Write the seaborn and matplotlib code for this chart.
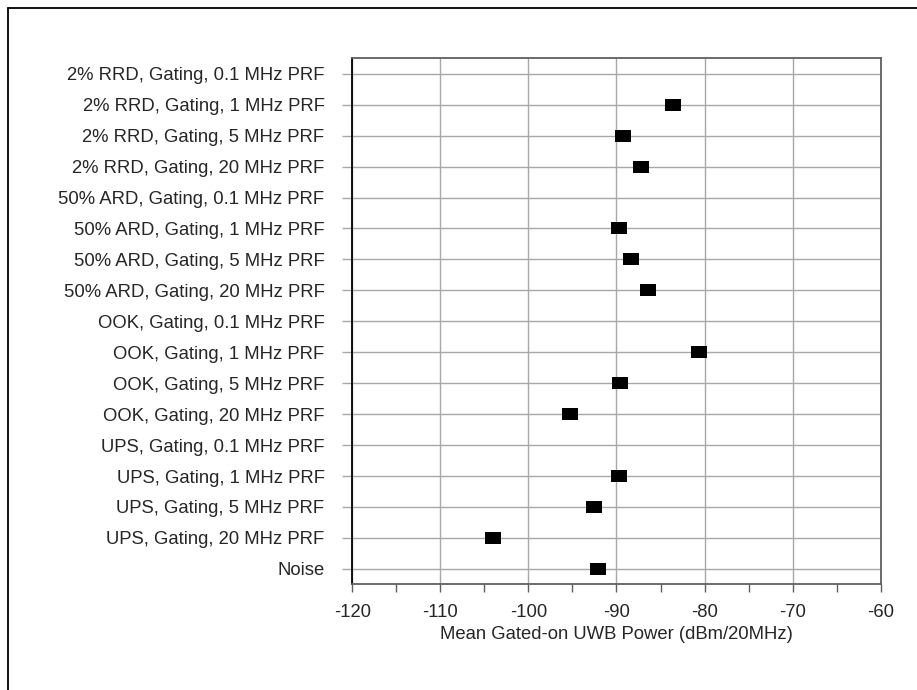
import numpy as np
import pandas as pd
import seaborn as sns
import matplotlib.pyplot as plt
from matplotlib.lines import Line2D
from matplotlib.ticker import MultipleLocator

# rows top to bottom
categories = [
	'2% RRD, Gating, 0.1 MHz PRF',
	'2% RRD, Gating, 1 MHz PRF',
	'2% RRD, Gating, 5 MHz PRF',
	'2% RRD, Gating, 20 MHz PRF',
	'50% ARD, Gating, 0.1 MHz PRF',
	'50% ARD, Gating, 1 MHz PRF',
	'50% ARD, Gating, 5 MHz PRF',
	'50% ARD, Gating, 20 MHz PRF',
	'OOK, Gating, 0.1 MHz PRF',
	'OOK, Gating, 1 MHz PRF',
	'OOK, Gating, 5 MHz PRF',
	'OOK, Gating, 20 MHz PRF',
	'UPS, Gating, 0.1 MHz PRF',
	'UPS, Gating, 1 MHz PRF',
	'UPS, Gating, 5 MHz PRF',
	'UPS, Gating, 20 MHz PRF',
	'Noise',
]
# mean gated-on power, dBm/20MHz (0.1 MHz rows have no value)
power = [
	np.nan, -83.6, -89.3, -87.2,
	np.nan, -89.7, -88.4, -86.4,
	np.nan, -80.6, -89.6, -95.3,
	np.nan, -89.7, -92.5, -104.0,
	-92.1,
]
x_ticks = [-120, -110, -100, -90, -80, -70, -60]

df = pd.DataFrame({'condition': categories, 'power': power})

sns.set_style('white')
plt.rcParams['font.family'] = ['Liberation Sans', 'DejaVu Sans']
plt.rcParams['axes.unicode_minus'] = False

fig = plt.figure(figsize=(9.17, 6.90), dpi=100)
ax = fig.add_axes([0.3842, 0.1532, 0.5762, 0.7623])

# wide flat box marker
box = [(-1.45, -1), (1.45, -1), (1.45, 1), (-1.45, 1)]
sns.stripplot(data=df, x='power', y='condition', order=categories, orient='h',
	jitter=False, color='black', marker=box, s=11.5, linewidth=0, ax=ax, zorder=5)

fs = 13.3
ax.set_xlim(-120, -60)
ax.set_ylim(len(categories) - 0.5, -0.5)
ax.set_xticks(x_ticks)
ax.xaxis.set_minor_locator(MultipleLocator(5))
ax.set_xlabel('Mean Gated-on UWB Power (dBm/20MHz)', fontsize=fs, color='#262626', labelpad=3)
ax.set_ylabel('')

ax.grid(True, which='major', axis='both', color='#a8a8a8', linewidth=1.0)
ax.set_axisbelow(True)

ax.tick_params(axis='x', which='both', direction='out', length=6, width=1,
	color='#606060', bottom=True, labelsize=fs, labelcolor='#262626', pad=8.5)
ax.tick_params(axis='y', which='major', direction='out', length=7.5, width=1,
	color='#a8a8a8', left=True, labelsize=fs, labelcolor='#262626', pad=12.5)

for side in ['top', 'right', 'bottom']:
	ax.spines[side].set_color('#606060')
	ax.spines[side].set_linewidth(1.3)
ax.spines['left'].set_color('black')
ax.spines['left'].set_linewidth(1.3)

# frame lines at the top and left of the picture
fig.add_artist(Line2D([0.0087, 0.0087], [0, 0.988], transform=fig.transFigure, color='black', linewidth=1.3))
fig.add_artist(Line2D([0.0087, 1], [0.988, 0.988], transform=fig.transFigure, color='black', linewidth=1.3))

fig.savefig('out.png', dpi=100)
